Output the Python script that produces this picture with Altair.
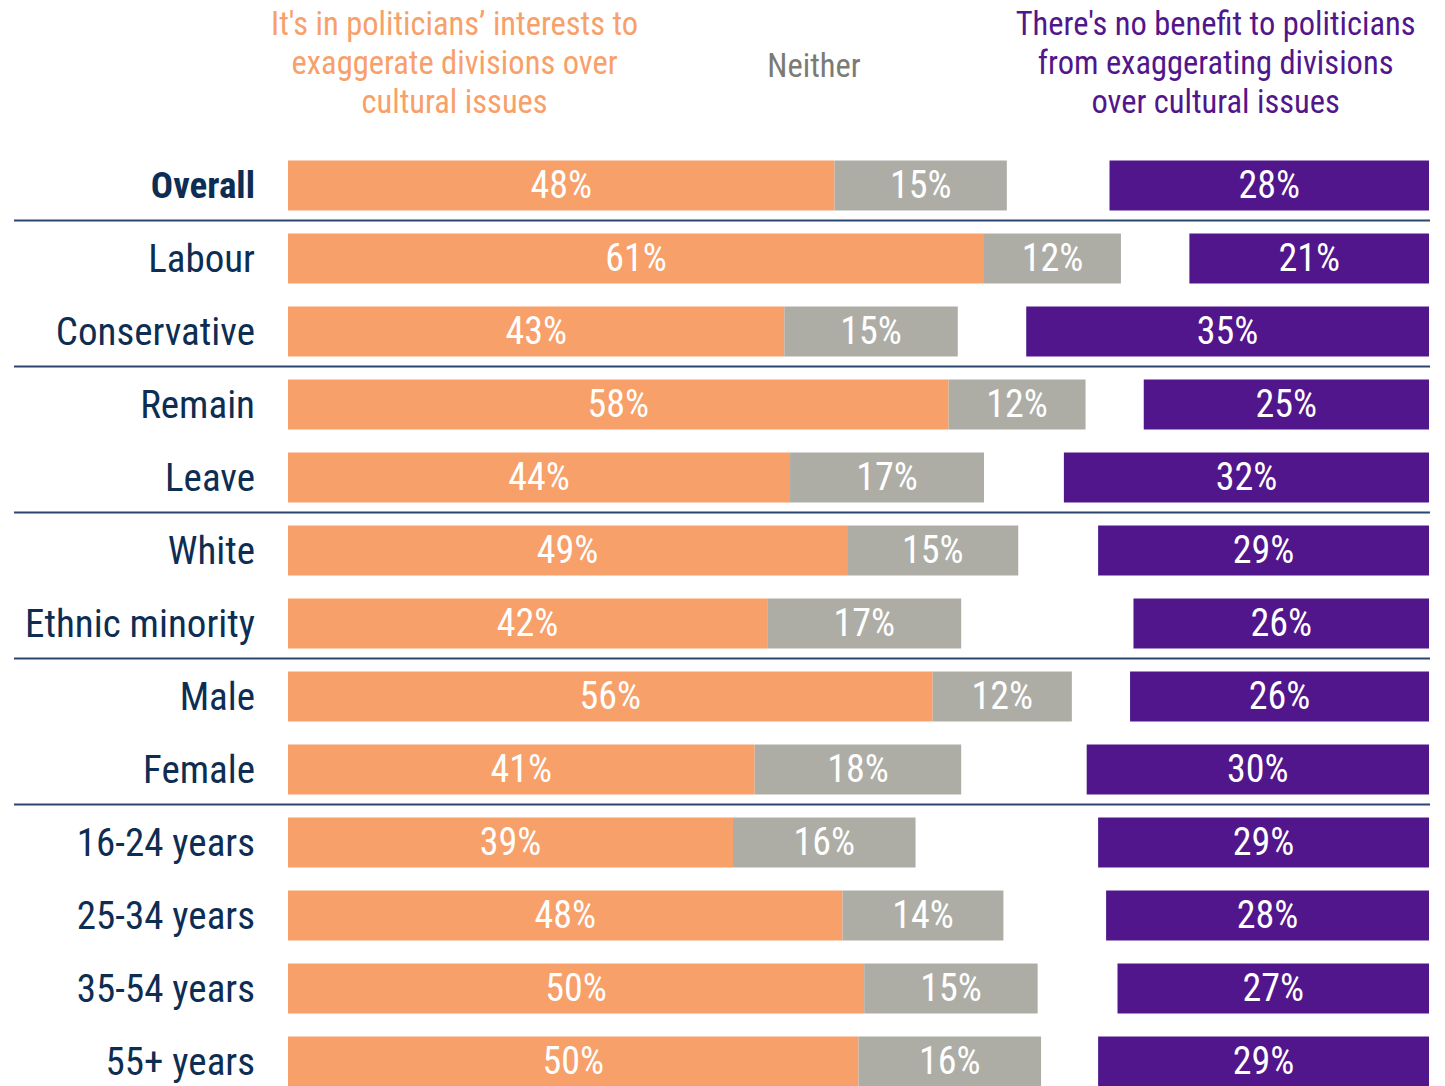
import altair as alt
import pandas as pd

categories = ["Overall", "Labour", "Conservative", "Remain", "Leave", "White",
              "Ethnic minority", "Male", "Female", "16-24 years", "25-34 years",
              "35-54 years", "55+ years"]
# bar lengths (in %)
interests = [47.9, 61.0, 43.5, 57.9, 44.0, 49.0, 42.0, 56.5, 40.9, 39.0, 48.6, 50.5, 50.0]
neither = [15.1, 12.0, 15.2, 12.0, 17.0, 15.0, 17.0, 12.2, 18.1, 16.0, 14.1, 15.2, 16.0]
no_benefit = [28.0, 21.0, 35.3, 25.0, 32.0, 29.0, 25.9, 26.2, 30.0, 29.0, 28.3, 27.3, 29.0]
# printed labels
interests_lbl = [48, 61, 43, 58, 44, 49, 42, 56, 41, 39, 48, 50, 50]
neither_lbl = [15, 12, 15, 12, 17, 15, 17, 12, 18, 16, 14, 15, 16]
no_benefit_lbl = [28, 21, 35, 25, 32, 29, 26, 26, 30, 29, 28, 27, 29]

separators_before = ["Labour", "Remain", "White", "Male", "16-24 years"]

ORANGE = "#F8A06A"
GRAY = "#ADADA6"
PURPLE = "#52168C"
NAVY = "#0E2D52"
FONT = "Roboto Condensed, Liberation Sans Narrow, DejaVu Sans Condensed, sans-serif"

rows = []
for i, c in enumerate(categories):
    a, b, p = interests[i], neither[i], no_benefit[i]
    rows.append(dict(cat=c, seg="interests", start=0, end=a, label=f"{interests_lbl[i]}%"))
    rows.append(dict(cat=c, seg="neither", start=a, end=a + b, label=f"{neither_lbl[i]}%"))
    rows.append(dict(cat=c, seg="nobenefit", start=100 - p, end=100, label=f"{no_benefit_lbl[i]}%"))
df = pd.DataFrame(rows)
df["mid"] = (df["start"] + df["end"]) / 2

STEP = 73
N = len(categories)
yscale = alt.Scale(domain=categories, range=[0, STEP * N],
                   paddingInner=23 / 73, paddingOuter=23 / 146)
xscale = alt.Scale(domain=[0, 100], nice=False, zero=False)

base = alt.Chart(df)

bars = base.mark_bar(cornerRadius=0).encode(
    x=alt.X("start:Q", scale=xscale, axis=None),
    x2="end:Q",
    y=alt.Y("cat:N", scale=yscale, axis=None, sort=categories),
    color=alt.Color("seg:N", scale=alt.Scale(domain=["interests", "neither", "nobenefit"],
                                              range=[ORANGE, GRAY, PURPLE]), legend=None),
)

bar_text = base.mark_text(font=FONT, fontSize=38, color="white", baseline="middle", dy=1).encode(
    x=alt.X("mid:Q", scale=xscale),
    y=alt.Y("cat:N", scale=yscale, sort=categories),
    text="label:N",
)

cat_df = pd.DataFrame({"cat": categories})
cat_base = alt.Chart(cat_df)
labels_normal = cat_base.transform_filter(alt.datum.cat != "Overall").mark_text(
    font=FONT, fontSize=39, color=NAVY, align="right", baseline="middle", dy=1
).encode(
    x=alt.value(-33),
    y=alt.Y("cat:N", scale=yscale, sort=categories),
    text="cat:N",
)
labels_bold = cat_base.transform_filter(alt.datum.cat == "Overall").mark_text(
    font=FONT, fontSize=37, fontWeight="bold", color=NAVY, align="right", baseline="middle", dy=1
).encode(
    x=alt.value(-33),
    y=alt.Y("cat:N", scale=yscale, sort=categories),
    text="cat:N",
)

sep_df = pd.DataFrame({"cat": separators_before})
seps = alt.Chart(sep_df).mark_rule(color="#2B4770", strokeWidth=2, yOffset=-13).encode(
    y=alt.Y("cat:N", scale=yscale, sort=categories, bandPosition=0),
    x=alt.value(-274),
    x2=alt.value(1142),
)

header_df = pd.DataFrame({
    "x": [14.6, 46.1, 81.3],
    "text": ["It's in politicians\u2019 interests to\nexaggerate divisions over\ncultural issues",
             "Neither",
             "There's no benefit to politicians\nfrom exaggerating divisions\nover cultural issues"],
    "key": ["interests", "neither", "nobenefit"],
    "y": [-124, -82, -124],
})
headers = alt.Chart(header_df).mark_text(
    font=FONT, fontSize=32.5, align="center", baseline="middle", lineBreak="\n", lineHeight=39
).encode(
    x=alt.X("x:Q", scale=xscale),
    y=alt.Y("y:Q", scale=None),
    text="text:N",
    color=alt.Color("key:N", scale=alt.Scale(domain=["interests", "neither", "nobenefit"],
                                              range=[ORANGE, "#7B7B73", PURPLE]), legend=None),
)

chart = alt.layer(bars, bar_text, labels_normal, labels_bold, seps, headers).properties(
    width=1141,
    height=937,
    padding={"left": 288, "top": 149, "right": 16, "bottom": 0},
    autosize=alt.AutoSizeParams(type="none"),
    background="white",
).configure_view(stroke=None).resolve_scale(color="independent")

chart.save("out.html", embed_options={"renderer": "svg", "actions": False})
